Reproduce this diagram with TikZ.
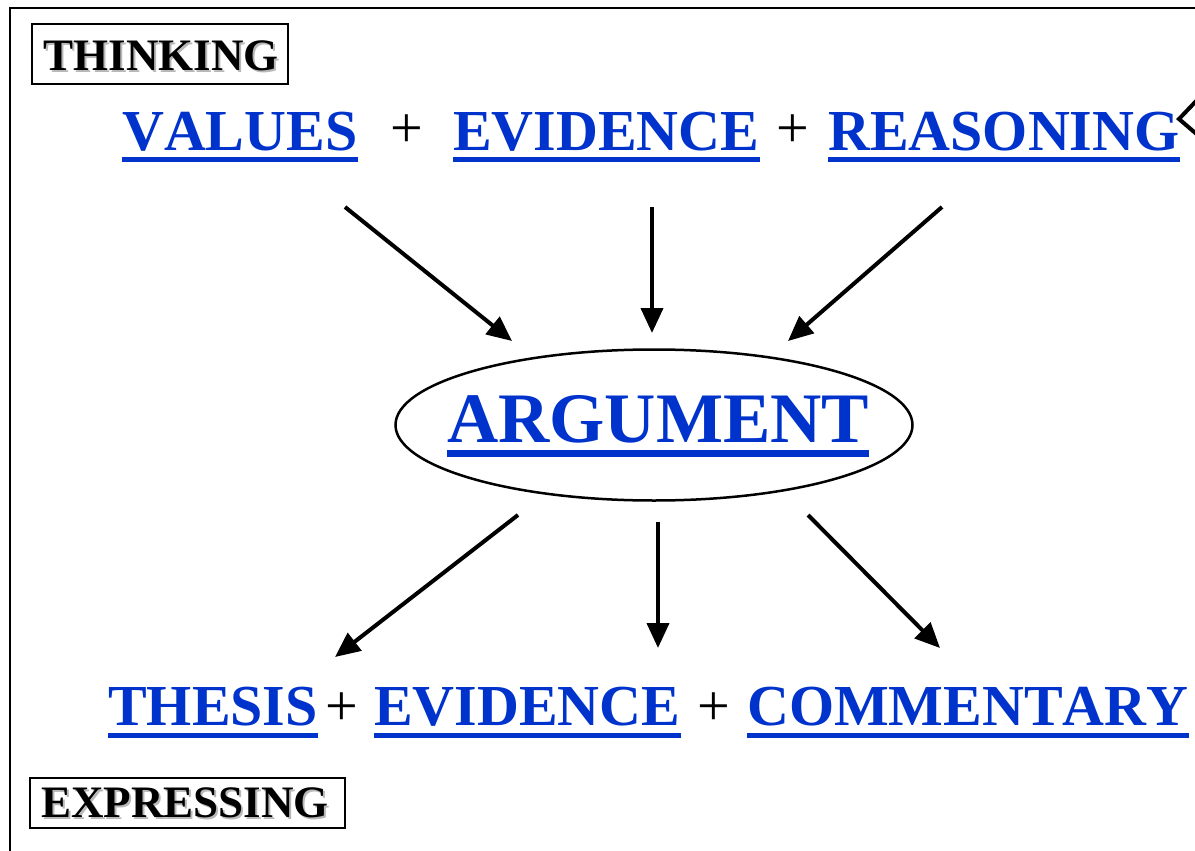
\documentclass[tikz,border=0pt]{standalone}
\usepackage{fontspec}
\setmainfont[Kerning=Off]{Liberation Serif}
\usetikzlibrary{arrows.meta,shapes.geometric}
\definecolor{lblue}{RGB}{0,51,204}
\begin{document}
\begin{tikzpicture}[x=1pt,y=-1pt,
  term/.style={text=lblue,font=\bfseries\fontsize{58}{60}\selectfont,inner sep=0pt,anchor=base west},
  plussign/.style={font=\fontsize{58}{60}\selectfont,inner sep=0pt},
  ul/.style={draw=lblue,line width=5pt},
  arr/.style={line width=4pt,-{Triangle[length=25pt,width=22pt]}},
  lab/.style={font=\bfseries\fontsize{45}{46}\selectfont,inner sep=0pt},
  labshadow/.style={lab,text=black!28},
  labbox/.style={draw,line width=2pt,inner sep=0pt}]
\useasboundingbox (0,0) rectangle (1195,851);
% frame
\draw[line width=2pt] (10,851) -- (10,8) -- (1195,8);
% labels
\node[labbox,minimum width=256pt,minimum height=60pt] (thinkbox) at (160,54) {};
\node[labshadow] at (163,58) {THINKING};
\node[lab] (think) at (161,56) {THINKING};
\node[labbox,minimum width=315pt,minimum height=50pt] (exprbox) at (187.5,803) {};
\node[labshadow] at (187,805) {EXPRESSING};
\node[lab] (expr) at (185,803) {EXPRESSING};
% top row
\node[term] (val) at (122,150) {VALUES};
\node[plussign] (p1) at (407,131) {+};
\node[term] (evt) at (453,150) {EVIDENCE};
\node[plussign] (p2) at (793,131) {+};
\node[term] (rea) at (828,150) {REASONING};
\foreach \n in {val,evt,rea}
  \draw[ul] ([yshift=-9.5pt]\n.base west) -- ([yshift=-9.5pt]\n.base east);
% argument
\node[ellipse,draw,line width=2.5pt,inner sep=0pt,minimum width=517pt,minimum height=151pt] (argell) at (654,425) {};
\node[term,font=\bfseries\fontsize{71}{72}\selectfont] (arg) at (447,442) {ARGUMENT};
\draw[draw=lblue,line width=7pt] ([yshift=-11pt]arg.base west) -- ([yshift=-11pt]arg.base east);
% bottom row
\node[term] (the) at (108,725) {THESIS};
\node[plussign] (p3) at (342,709) {+};
\node[term] (evb) at (374,725) {EVIDENCE};
\node[plussign] (p4) at (714,709) {+};
\node[term] (com) at (747,725) {COMMENTARY};
\foreach \n in {the,evb,com}
  \draw[ul] ([yshift=-10pt]\n.base west) -- ([yshift=-10pt]\n.base east);
% arrow endpoints
\coordinate (a1s) at (345,207); \coordinate (a1e) at (512,341);
\coordinate (a2s) at (652,207); \coordinate (a2e) at (652,333);
\coordinate (a3s) at (942,207); \coordinate (a3e) at (788,341);
\coordinate (b1s) at (518,515); \coordinate (b1e) at (335,657);
\coordinate (b2s) at (658,522); \coordinate (b2e) at (658,648);
\coordinate (b3s) at (808,515); \coordinate (b3e) at (940,648);
\draw[arr] (a1s) -- (a1e);
\draw[arr] (a2s) -- (a2e);
\draw[arr] (a3s) -- (a3e);
\draw[arr] (b1s) -- (b1e);
\draw[arr] (b2s) -- (b2e);
\draw[arr] (b3s) -- (b3e);
% partial arrowhead at right edge
\coordinate (tipr) at (1179,119);
\draw[line width=4pt,line join=miter] (1200,97) -- (tipr) -- (1200,137);
\end{tikzpicture}
\end{document}
